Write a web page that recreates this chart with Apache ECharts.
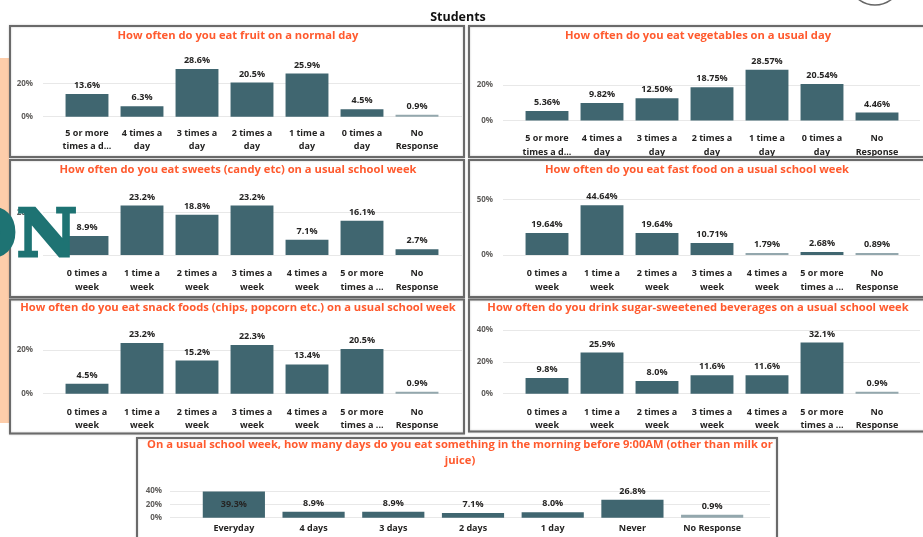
<!DOCTYPE html>
<html>
<head>
<meta charset="utf-8">
<script src="https://cdn.jsdelivr.net/npm/echarts@6/dist/echarts.min.js"></script>
<style>
  html, body { margin: 0; padding: 0; background: #fff; }
  #chart { width: 923px; height: 537px; }
</style>
</head>
<body>
<div id="chart"></div>
<script>
// categories as shown on the axes
const dayCats = ['5 or more\ntimes a d...', '4 times a\nday', '3 times a\nday', '2 times a\nday', '1 time a\nday', '0 times a\nday', 'No\nResponse']
const weekCats = ['0 times a\nweek', '1 time a\nweek', '2 times a\nweek', '3 times a\nweek', '4 times a\nweek', '5 or more\ntimes a ...', 'No\nResponse']
const morningCats = ['Everyday', '4 days', '3 days', '2 days', '1 day', 'Never', 'No Response']

// percent of students
const fruitValues = [13.6, 6.3, 28.6, 20.5, 25.9, 4.5, 0.9]
const vegValues = [5.36, 9.82, 12.50, 18.75, 28.57, 20.54, 4.46]
const sweetsValues = [8.9, 23.2, 18.8, 23.2, 7.1, 16.1, 2.7]
const fastFoodValues = [19.64, 44.64, 19.64, 10.71, 1.79, 2.68, 0.89]
const snackValues = [4.5, 23.2, 15.2, 22.3, 13.4, 20.5, 0.9]
const drinkValues = [9.8, 25.9, 8.0, 11.6, 11.6, 32.1, 0.9]
const morningValues = [39.3, 8.9, 8.9, 7.1, 8.0, 26.8, 0.9]

const FONT = '"Open Sans", "Noto Sans", sans-serif'
const BAR = '#406670'
const BAR_THIN = '#93a7ad'
const TITLE = '#FF5A2E'
const LABEL = '#252423'

const panels = [
  { title: 'How often do you eat fruit on a normal day', cats: dayCats, values: fruitValues, digits: 1,
    box: [10, 26, 454, 131], tx: 238, ty: 36, zeroY: 116.7, topY: 83.3, topVal: 20, step: 20,
    gl: [43, 462], band: [59.5, 444.5], lm: 10.5, lh: 13 },
  { title: 'How often do you eat vegetables on a usual day', cats: dayCats, values: vegValues, digits: 2,
    box: [469, 26, 470, 131], tx: 698, ty: 36, zeroY: 120.5, topY: 85, topVal: 20, step: 20,
    gl: [503, 920], band: [519.5, 904.5], lm: 11, lh: 14 },
  { title: 'How often do you eat sweets (candy etc) on a usual school week', cats: weekCats, values: sweetsValues, digits: 1,
    box: [10, 160, 454, 137], tx: 238, ty: 170, zeroY: 255, topY: 212.3, topVal: 20, step: 20,
    gl: [43, 462], band: [59.5, 444.5], lm: 11.5, lh: 14 },
  { title: 'How often do you eat fast food on a usual school week', cats: weekCats, values: fastFoodValues, digits: 2,
    box: [469, 160, 470, 137], tx: 697, ty: 170, zeroY: 255, topY: 199.3, topVal: 50, step: 50,
    gl: [503, 920], band: [519.5, 904.5], lm: 11.5, lh: 14 },
  { title: 'How often do you eat snack foods (chips, popcorn etc.) on a usual school week', cats: weekCats, values: snackValues, digits: 1,
    box: [10, 299.5, 454, 134], tx: 238, ty: 307.7, zeroY: 393.7, topY: 350, topVal: 20, step: 20,
    gl: [43, 462], band: [59.5, 444.5], lm: 11.5, lh: 13.5 },
  { title: 'How often do you drink sugar-sweetened beverages on a usual school week', cats: weekCats, values: drinkValues, digits: 1,
    box: [469, 299.5, 470, 132], tx: 698, ty: 307.7, zeroY: 393.7, topY: 330, topVal: 40, step: 20,
    gl: [503, 920], band: [519.5, 904.5], lm: 11.5, lh: 13.5 },
  { title: 'On a usual school week, how many days do you eat something in the morning before 9:00AM (other than milk or\njuice)',
    cats: morningCats, values: morningValues, digits: 1,
    box: [137, 438, 640, 110], tx: 460, ty: 453, zeroY: 517.7, topY: 491, topVal: 40, step: 20,
    gl: [170, 770], band: [194, 752], lm: 4.5, lh: 12, ym: 8, minH: 3, inside: 35 }
]

const option = {
  animation: false,
  grid: [],
  xAxis: [],
  yAxis: [],
  series: [],
  graphic: []
}

panels.forEach((p, i) => {
  const h = p.zeroY - p.topY
  // gridlines + y labels
  option.grid.push({ left: p.gl[0], top: p.topY, width: p.gl[1] - p.gl[0], height: h, outerBoundsMode: 'none' })
  option.xAxis.push({ type: 'value', gridIndex: 2 * i, min: 0, max: 1, show: false })
  option.yAxis.push({
    type: 'value', gridIndex: 2 * i, min: 0, max: p.topVal, interval: p.step,
    axisLine: { show: false }, axisTick: { show: false },
    splitLine: { lineStyle: { color: '#e8e8e8', width: 1 } },
    axisLabel: { formatter: '{value}%', margin: p.ym || 10, color: '#605E5C', fontFamily: FONT, fontWeight: 'bold', fontSize: 8 }
  })
  // bars
  option.grid.push({ left: p.band[0], top: p.topY, width: p.band[1] - p.band[0], height: h, outerBoundsMode: 'none' })
  option.xAxis.push({
    type: 'category', gridIndex: 2 * i + 1, data: p.cats,
    axisLine: { show: false }, axisTick: { show: false },
    axisLabel: { interval: 0, margin: p.lm, lineHeight: p.lh, color: LABEL, fontFamily: FONT, fontWeight: 'bold', fontSize: 9 }
  })
  option.yAxis.push({ type: 'value', gridIndex: 2 * i + 1, min: 0, max: p.topVal, show: false })
  option.series.push({
    type: 'bar',
    xAxisIndex: 2 * i + 1,
    yAxisIndex: 2 * i + 1,
    clip: false,
    barCategoryGap: '22%',
    barMinHeight: p.minH || 2,
    // no room above the tallest bar in the last chart, so its label sits inside
    data: p.values.map(v => (p.inside && v > p.inside) ? { value: v, label: { position: 'inside', color: LABEL } } : v),
    itemStyle: { color: (d) => d.value < 2 ? BAR_THIN : BAR },
    label: {
      show: true, position: 'top', distance: 4,
      formatter: (d) => d.value.toFixed(p.digits) + '%',
      color: LABEL, fontFamily: FONT, fontWeight: 'bold', fontSize: 9
    }
  })
  // frame + title
  option.graphic.push({
    type: 'rect', z: 1,
    shape: { x: p.box[0], y: p.box[1], width: p.box[2], height: p.box[3] },
    style: { fill: 'none', stroke: '#6a6a6a', lineWidth: 2, shadowBlur: 2, shadowColor: 'rgba(0,0,0,0.25)' }
  })
  option.graphic.push({
    type: 'text', z: 5, x: p.tx, y: p.ty,
    style: { text: p.title, fill: TITLE, fontFamily: FONT, fontWeight: 'bold', fontSize: 11.2, lineHeight: 15.7, align: 'center', verticalAlign: 'middle' }
  })
})

// page decorations
option.graphic.push(
  { type: 'text', z: 5, x: 458, y: 17, style: { text: 'Students', fill: '#111', fontFamily: FONT, fontWeight: 'bold', fontSize: 12.5, align: 'center', verticalAlign: 'middle' } },
  { type: 'rect', z: 0, shape: { x: 0, y: 58, width: 9, height: 365 }, style: { fill: '#FDCDAA' } },
  { type: 'arc', z: 5, shape: { cx: 875, cy: -22, r: 27, startAngle: 0.9, endAngle: Math.PI - 0.9 }, style: { fill: 'none', stroke: '#666', lineWidth: 1.5 } },
  { type: 'text', z: 100, x: 77, y: 239, style: { text: 'ON', fill: '#1E7373', stroke: '#1E7373', lineWidth: 3, fontFamily: '"DejaVu Serif"', fontWeight: 'bold', fontSize: 66, align: 'right', verticalAlign: 'middle' } }
)

const chart = echarts.init(document.getElementById('chart'))
chart.setOption(option)
</script>
</body>
</html>
